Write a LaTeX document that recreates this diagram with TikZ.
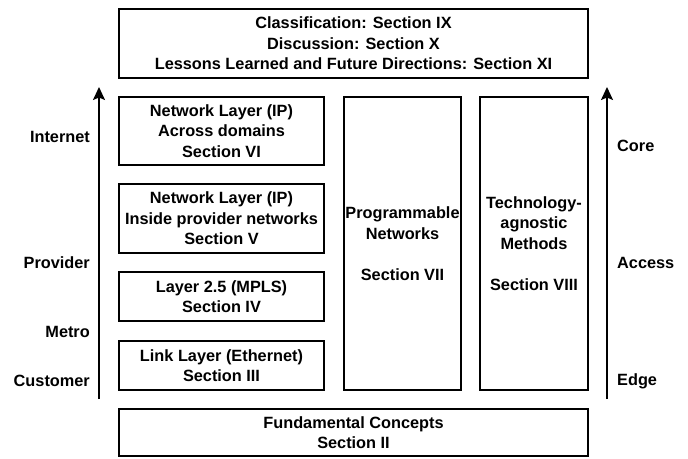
\documentclass[tikz,border=0pt]{standalone}
\usepackage{fontspec}
\setmainfont{Liberation Sans}
\usetikzlibrary{arrows.meta}
\begin{document}
\begin{tikzpicture}[x=1pt,y=-1pt,
  box/.style={draw,line width=1.6pt,inner sep=0pt,align=center,
    font=\fontsize{16.3}{20.5}\selectfont\bfseries},
  lbl/.style={font=\fontsize{16.3}{20}\selectfont\bfseries,inner sep=0pt},
  axis/.style={line width=1.6pt,-{Stealth[length=13pt,width=12pt,inset=2.5pt]}}]
\useasboundingbox (0,0) rectangle (688,458);
\newcommand{\boxat}[6]{\node[box,minimum width=#4-#2,minimum height=#5-#3] (#1) at ({(#2+#4)/2},{(#3+#5)/2}) {#6};}
\boxat{top}{119}{9}{588}{78}{Classification: Section IX\\Discussion: Section X\\Lessons Learned and Future Directions: Section XI}
\boxat{six}{119}{97}{324}{165}{Network Layer (IP)\\Across domains\\Section VI}
\boxat{five}{119}{184}{324}{253}{Network Layer (IP)\\Inside provider networks\\Section V}
\boxat{four}{119}{272}{324}{321}{Layer 2.5 (MPLS)\\Section IV}
\boxat{three}{119}{341}{324}{390}{Link Layer (Ethernet)\\Section III}
\boxat{prog}{344}{97}{461}{390}{Programmable\\Networks\\[20.5pt]Section VII}
\boxat{tech}{480}{97}{588}{390}{Technology-\\agnostic\\Methods\\[20.5pt]Section VIII}
\boxat{fund}{119}{409}{588}{456}{Fundamental Concepts\\Section II}
\coordinate (la) at (99,399);
\coordinate (lb) at (99,87);
\coordinate (ra) at (607,399);
\coordinate (rb) at (607,87);
\draw[axis] (la) -- (lb);
\draw[axis] (ra) -- (rb);
\node[lbl,anchor=east] (internet) at (90,137) {Internet};
\node[lbl,anchor=east] (provider) at (90,263) {Provider};
\node[lbl,anchor=east] (metro) at (90,332) {Metro};
\node[lbl,anchor=east] (customer) at (90,381) {Customer};
\node[lbl,anchor=west] (core) at (617,146) {Core};
\node[lbl,anchor=west] (access) at (617,263) {Access};
\node[lbl,anchor=west] (edge) at (617,381) {Edge};
\end{tikzpicture}
\end{document}
